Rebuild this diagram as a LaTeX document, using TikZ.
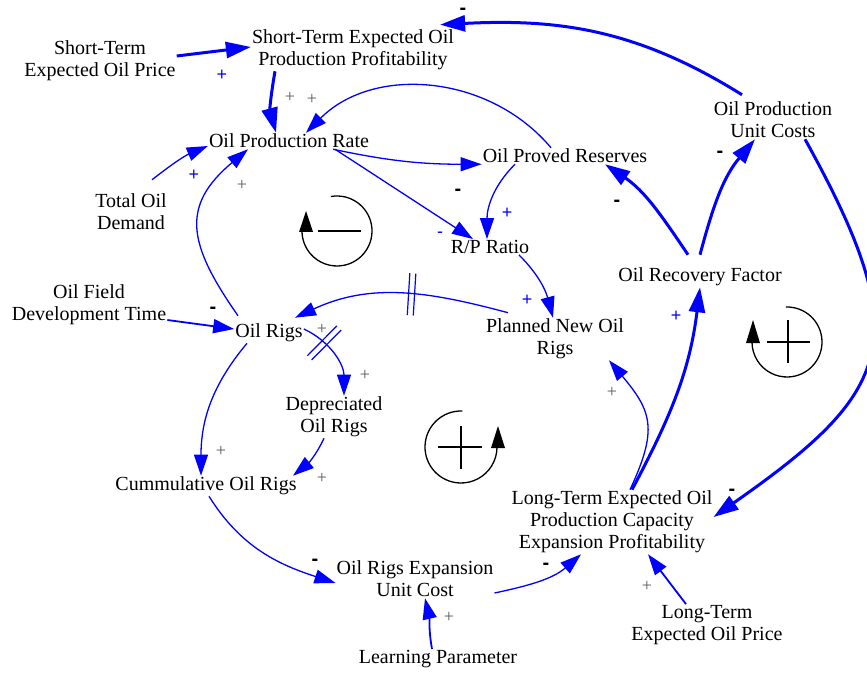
\documentclass[tikz,border=0pt]{standalone}
\usepackage{fontspec}
\setmainfont{Liberation Serif}
\setsansfont{Liberation Sans}
\usetikzlibrary{arrows.meta,decorations.markings}

\tikzset{
  var/.style={align=center, inner sep=1pt, font=\fontsize{20}{22}\selectfont},
  link/.style={draw=blue, line width=1.3pt, -{Triangle[length=21pt,width=14pt]}},
  strong/.style={draw=blue, line width=3pt, -{Triangle[length=25pt,width=16pt]}},
  bluesign/.style={text=blue, inner sep=0pt, font=\fontsize{18}{18}\sffamily},
  graysign/.style={text=black!65, inner sep=0pt, font=\fontsize{18}{18}\selectfont},
  blacksign/.style={inner sep=0pt, font=\fontsize{20}{20}\sffamily\bfseries},
  delaymark/.style={postaction={decorate, decoration={markings,
      mark=at position #1 with {\draw[-, blue, line width=1.2pt] (-3,-21) -- (-3,21) (3,-21) -- (3,21);}}}},
  loopline/.style={line width=1.3pt},
  loopsign/.style={line width=2.6pt},
}

\begin{document}
\begin{tikzpicture}[x=1pt, y=1pt]
\useasboundingbox (0,0) rectangle (867,-676);

% variables
\node[var] (stprice) at (100,-61) {Short-Term\\Expected Oil Price};
\node[var] (stprof) at (353,-50) {Short-Term Expected Oil\\Production Profitability};
\node[var] (rate) at (289,-141) {Oil Production Rate};
\node[var] (demand) at (131,-212) {Total Oil\\Demand};
\node[var] (reserves) at (565,-156) {Oil Proved Reserves};
\node[var] (rpratio) at (490,-247) {R/P Ratio};
\node[var] (unitcost) at (773,-120) {Oil Production\\Unit Costs};
\node[var] (recovery) at (700,-277) {Oil Recovery Factor};
\node[var] (devtime) at (89,-305) {Oil Field\\Development Time};
\node[var] (rigs) at (269,-333) {Oil Rigs};
\node[var] (planned) at (555,-339) {Planned New Oil\\Rigs};
\node[var] (depr) at (334,-417) {Depreciated\\Oil Rigs};
\node[var] (cumul) at (206,-486) {Cummulative Oil Rigs};
\node[var] (ltprof) at (612,-522) {Long-Term Expected Oil\\Production Capacity\\Expansion Profitability};
\node[var] (expcost) at (415,-579) {Oil Rigs Expansion\\Unit Cost};
\node[var] (learning) at (438,-659) {Learning Parameter};
\node[var] (ltprice) at (707,-625) {Long-Term\\Expected Oil Price};

% causal links
\draw[strong] ([yshift=5]stprice.east) -- ([yshift=3]stprof.west);
\draw[strong] ([xshift=-78]stprof.south) to[out=-100,in=105] ([xshift=-13]rate.north);
\draw[link] ([xshift=-14]reserves.north) to[out=130,in=45] ([xshift=17]rate.north);
\draw[link] ([xshift=21,yshift=13]demand.north) to[out=38,in=203] ([yshift=-5]rate.west);
\draw[link] ([xshift=-31,yshift=7]rigs.north) to[out=125,in=220,looseness=1.35] ([xshift=-41]rate.south);
\draw[link] ([xshift=44]rate.south) to[out=-12,in=180] (reserves.south west);
\draw[link] ([xshift=46]rate.south) -- ([xshift=-17]rpratio.north);
\draw[link] ([xshift=-50]reserves.south) to[out=-135,in=90] ([xshift=-3]rpratio.north);
\draw[strong] ([xshift=-31,yshift=6]unitcost.north) to[out=148,in=3] ([xshift=-15,yshift=4]stprof.north east);
\draw[strong] ([xshift=-12,yshift=12]recovery.north) to[out=124,in=-34] ([xshift=40]reserves.south);
\draw[strong] ([yshift=12]recovery.north) to[out=75,in=-130] ([xshift=-18]unitcost.south);
\draw[strong] ([xshift=32]unitcost.south) .. controls +(-61:230) and +(35:220) .. ([yshift=5]ltprof.east);
\draw[link] ([xshift=29]rpratio.south) to[out=-45,in=105] ([xshift=-2]planned.north);
\draw[link, delaymark=0.45] ([xshift=-47,yshift=5]planned.north) to[out=165,in=25] ([xshift=26,yshift=5]rigs.north);
\draw[link, line width=1.8pt] ([yshift=-15]devtime.east) -- ([yshift=4]rigs.west);
\draw[link, delaymark=0.3] ([yshift=4]rigs.east) to[out=-25,in=90] ([xshift=10]depr.north);
\draw[link] ([xshift=-22]rigs.south) to[out=-130,in=90] ([xshift=-5]cumul.north);
\draw[link] ([xshift=-10]depr.south) to[out=-115,in=39] ([xshift=87]cumul.north);
\draw[link] ([xshift=3]cumul.south) to[out=-58,in=162] ([yshift=-4]expcost.west);
\draw[link, line width=1.8pt] ([xshift=-6]learning.north) to[out=100,in=-77] ([xshift=10]expcost.south);
\draw[link] ([yshift=-14]expcost.east) to[out=12,in=-139] ([xshift=-31]ltprof.south);
\draw[link, line width=1.8pt] ([xshift=-21]ltprice.north) -- ([xshift=36]ltprof.south);
\draw[strong] ([xshift=20]ltprof.north) to[out=62,in=-97] (recovery.south);
\draw[link] ([xshift=18]ltprof.north) to[out=65,in=-50,looseness=1.3] ([xshift=54]planned.south);

% polarities
\foreach \x/\y [count=\i] in {222/75,194/175,507/213,527/300,676/316}
  \node[bluesign] (bp\i) at (\x,-\y) {+};
\node[bluesign] (bm1) at (440,-235) {-};
\foreach \x/\y [count=\i] in {290/97,312/99,242/185,322/329,365/375,221/451,322/478,449/617,647/586,612/392}
  \node[graysign] (gp\i) at (\x,-\y) {+};
\foreach \x/\y [count=\i] in {463/11,458/192,617/203,720/154,732/492,213/310,315/562,546/566}
  \node[blacksign] (bk\i) at (\x,-\y) {-};

% loop markers
\coordinate (negloop) at (337,-231);
\draw[loopline] (negloop) ++(100:35) arc[start angle=100, end angle=-180, radius=35];
\fill ([xshift=-38,yshift=-1]negloop) -- ++(14,0) -- ++(-7,21) -- cycle;
\draw[loopsign] ([xshift=-19]negloop) -- ++(43,0);

\coordinate (posloopA) at (461,-447);
\draw[loopline] (posloopA) ++(88:36) arc[start angle=88, end angle=360, radius=36];
\fill ([xshift=30,yshift=-1]posloopA) -- ++(14,0) -- ++(-7,22) -- cycle;
\draw[loopsign] ([xshift=-23]posloopA) -- ++(44,0) ([yshift=21]posloopA) -- ++(0,-43);

\coordinate (posloopB) at (787,-342);
\draw[loopline] (posloopB) ++(92:35) arc[start angle=92, end angle=-180, radius=35];
\fill ([xshift=-41,yshift=-1]posloopB) -- ++(14,0) -- ++(-7,23) -- cycle;
\draw[loopsign] ([xshift=-20]posloopB) -- ++(43,0) ([xshift=1,yshift=22]posloopB) -- ++(0,-43);
\end{tikzpicture}
\end{document}
